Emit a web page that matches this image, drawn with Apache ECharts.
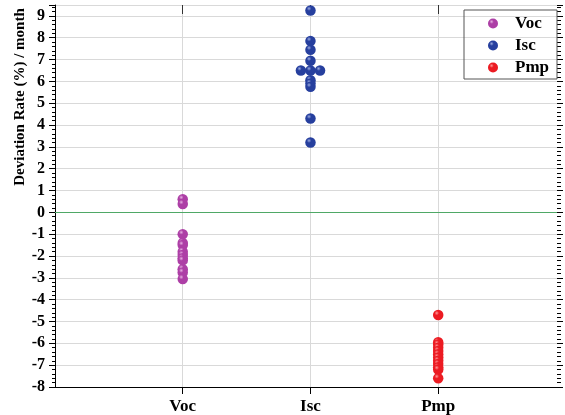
<!DOCTYPE html>
<html>
<head>
<meta charset="utf-8">
<script src="https://cdn.jsdelivr.net/npm/echarts@6/dist/echarts.min.js"></script>
<style>
html, body { margin: 0; padding: 0; background: #fff; }
#main { width: 565px; height: 415px; }
</style>
</head>
<body>
<div id="main"></div>
<script>
// categories on the x axis, 1..3
var categories = ['Voc', 'Isc', 'Pmp'];
var vocValues = [0.6, 0.38, -1.0, -1.4, -1.5, -1.8, -1.95, -2.1, -2.2, -2.6, -2.75, -3.05];
var iscValues = [9.25, 7.85, 7.45, 6.95, 6.5, 6.5, 6.5, 6.05, 5.9, 5.75, 4.3, 3.2];
var iscOffsets = [0, 0, 0, 0, -0.075, 0, 0.075, 0, 0, 0, 0, 0]; // side by side points at 6.5
var pmpValues = [-4.7, -5.95, -6.05, -6.2, -6.35, -6.5, -6.65, -6.8, -6.95, -7.1, -7.2, -7.6];
var yTicks = [-8, 9, 1]; // min, last label, step

var serif = 'Liberation Serif, "Times New Roman", serif';

function ball(light, base) {
    return {
        type: 'radial', x: 0.36, y: 0.32, r: 0.72,
        colorStops: [{offset: 0, color: light}, {offset: 0.3, color: base}, {offset: 1, color: base}]
    };
}

var myChart = echarts.init(document.getElementById('main'));
myChart.setOption({
    animation: false,
    grid: { left: 55, right: 8, top: 5, bottom: 28 },
    legend: {
        orient: 'vertical',
        left: 464, top: 10,
        padding: [5, 8, 3, 24],
        itemGap: 5,
        itemWidth: 10, itemHeight: 10,
        borderColor: '#555', borderWidth: 1,
        icon: 'circle',
        textStyle: { fontFamily: serif, fontWeight: 'bold', fontSize: 17, color: '#000', lineHeight: 17, padding: [0, 0, 0, 12] },
        data: categories
    },
    graphic: [{
        type: 'text',
        x: 20, y: 97,
        rotation: Math.PI / 2,
        style: {
            text: 'Deviation Rate (%) / month',
            font: 'bold 15px ' + serif,
            fill: '#000',
            align: 'center',
            verticalAlign: 'middle'
        }
    }],
    xAxis: [
        {
            type: 'value', position: 'bottom',
            min: 0, max: 3.93, interval: 1,
            axisLine: { show: true, onZero: false, lineStyle: { color: '#000', width: 1 } },
            axisTick: { show: true, length: 7, customValues: [1, 2, 3], lineStyle: { color: '#000' } },
            axisLabel: {
                customValues: [1, 2, 3],
                margin: 11,
                fontFamily: serif, fontWeight: 'bold', fontSize: 17, color: '#000',
                formatter: function (v) { return categories[v - 1] || ''; }
            },
            splitLine: { show: true, lineStyle: { color: '#d9d9d9' } }
        },
        {
            type: 'value', position: 'top',
            min: 0, max: 3.93, interval: 1,
            axisLine: { show: false, onZero: false },
            axisTick: { show: true, inside: true, length: 9, customValues: [1, 2, 3], lineStyle: { color: '#333' } },
            axisLabel: { show: false },
            splitLine: { show: false }
        }
    ],
    yAxis: [
        {
            type: 'value', position: 'left',
            min: yTicks[0], max: 9.5, interval: yTicks[2],
            axisLine: { show: true, onZero: false, lineStyle: { color: '#000', width: 1 } },
            axisTick: { show: true, length: 6, lineStyle: { color: '#000' } },
            minorTick: { show: true, splitNumber: 5, length: 3, lineStyle: { color: '#000' } },
            axisLabel: {
                margin: 10,
                fontFamily: serif, fontWeight: 'bold', fontSize: 16, color: '#000',
                formatter: function (v) { return v > yTicks[1] ? '' : v; }
            },
            splitLine: { show: true, lineStyle: { color: '#d9d9d9' } }
        },
        {
            type: 'value', position: 'right',
            min: yTicks[0], max: 9.5, interval: yTicks[2],
            axisLine: { show: false, onZero: false },
            axisTick: { show: true, length: 6, lineStyle: { color: '#000' } },
            minorTick: { show: true, splitNumber: 5, length: 4, lineStyle: { color: '#000' } },
            axisLabel: { show: false },
            splitLine: { show: false }
        }
    ],
    series: [
        {
            name: 'Voc', type: 'scatter', symbolSize: 10.5,
            itemStyle: { color: ball('#e6b0e2', '#ad3fa6'), opacity: 1 },
            data: vocValues.map(function (v) { return [1, v]; }),
            markLine: {
                silent: true, symbol: 'none',
                label: { show: false },
                lineStyle: { color: '#4fa866', type: 'solid', width: 1 },
                data: [{ yAxis: 0 }]
            }
        },
        {
            name: 'Isc', type: 'scatter', symbolSize: 10.5,
            itemStyle: { color: ball('#9aaae0', '#263f9e'), opacity: 1 },
            data: iscValues.map(function (v, i) { return [2 + iscOffsets[i], v]; })
        },
        {
            name: 'Pmp', type: 'scatter', symbolSize: 10.5,
            itemStyle: { color: ball('#ff9a9a', '#ec1b22'), opacity: 1 },
            data: pmpValues.map(function (v) { return [3, v]; })
        }
    ]
});
</script>
</body>
</html>
